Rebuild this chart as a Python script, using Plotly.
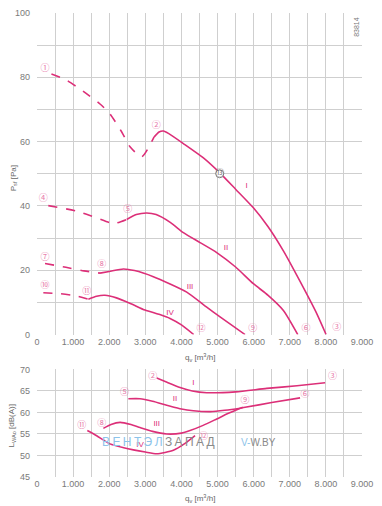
import plotly.graph_objects as go

# ---------------- data (top: pressure) ----------------
I_dash_q = [400, 822, 1283, 1745, 2022, 2346, 2576, 2900, 3240]
I_dash_p = [81, 79.1, 75.6, 71.7, 68.6, 63, 58.4, 55.3, 61.4]
I_sol_q = [3240, 3380, 3500, 3650, 4053, 4600, 5069, 5500, 5992, 6400, 6823, 7285, 7747, 8005]
I_sol_p = [61.4, 63, 63.3, 62.5, 59.4, 55, 50.2, 45.2, 39.4, 33.5, 26, 16.5, 6.5, 0]

II_dash_q = [313, 1100, 1654, 2022, 2200, 2484]
II_dash_p = [40.1, 38.4, 36.3, 34.8, 34.7, 35.8]
II_sol_q = [2484, 2750, 3039, 3300, 3700, 4053, 4515, 4977, 5500, 5992, 6400, 6823, 7222]
II_sol_p = [35.8, 37.3, 37.8, 37.3, 34.8, 31.7, 28.6, 25.5, 21, 15.8, 12.2, 7.5, 0]

III_dash_q = [222, 800, 1300, 1745]
III_dash_p = [22.1, 20.9, 19.8, 19.1]
III_sol_q = [1745, 2000, 2390, 2700, 3222, 4146, 4700, 5069, 5762]
III_sol_p = [19.1, 19.6, 20.4, 19.9, 18.0, 13.2, 8.5, 5.5, 0]

IV_dash_q = [175, 637, 1100, 1422]
IV_dash_p = [13, 12.7, 12.0, 11]
IV_sol_q = [1422, 1650, 1880, 2200, 2600, 2992, 3400, 3684, 4000, 4340]
IV_sol_p = [11, 11.9, 12.2, 11.4, 9.6, 7.6, 6.2, 5, 3, 0]

# ---------------- data (bottom: sound level) ----------------
LI_q = [3316, 3600, 3961, 4300, 4700, 5500, 6363, 7200, 7978]
LI_l = [68, 67, 65.8, 65, 64.6, 64.8, 65.6, 66.2, 66.9]
LII_q = [2530, 2853, 3200, 3592, 4000, 4330, 4800, 5200, 5623, 5762, 6500, 7285]
LII_l = [63.2, 63.2, 62.6, 61.7, 60.8, 60.4, 60.2, 60.5, 61, 61.2, 62.3, 63.4]
LIII_q = [1838, 2050, 2300, 2600, 2853, 3200, 3592, 4000, 4238, 4600, 4977, 5300, 5700]
LIII_l = [56.3, 57.2, 57.7, 57.2, 56.5, 55.6, 55, 55.2, 55.8, 57, 58.5, 59.8, 61.2]
LIV_q = [1393, 1653, 2022, 2400, 2668, 3000, 3316, 3776, 4100, 4377]
LIV_l = [55.8, 54.6, 52.7, 51.8, 51.3, 50.8, 50.4, 51.2, 52.8, 54.6]

# point labels
top_lbl_text = ["①", "②", "③", "④", "⑤", "⑥", "⑦", "⑧", "⑨", "⑩", "⑪", "⑫"]
top_lbl_q = [220, 3300, 8302, 175, 2512, 7452, 222, 1792, 5975, 222, 1376, 4543]
top_lbl_p = [82.8, 65, 2.1, 42.2, 38.9, 1.7, 23.9, 21.6, 1.7, 15.3, 13.4, 1.7]
curve_names = ["I", "II", "III", "IV"]
top_name_q = [5808, 5234, 4237, 3684]
top_name_p = [46.2, 26.8, 14.8, 6.8]
op_q, op_p, op_text = [5060], [50], ["⑬"]

bot_lbl_text = ["②", "③", "⑤", "⑥", "⑨", "⑧", "⑪", "⑫"]
bot_lbl_q = [3205, 8180, 2420, 7424, 5762, 1792, 1238, 4608]
bot_lbl_l = [68.4, 68.2, 64.6, 64.1, 62.8, 57.4, 56.9, 54.4]
bot_name_q = [4330, 3823, 3316, 2853]
bot_name_l = [66.8, 63.1, 57.4, 52.4]

x_tickvals = list(range(0, 9001, 500))
x_ticktext = [("%d.%03d" % (v // 1000, v % 1000) if v % 1000 == 0 and v > 0 else ("0" if v == 0 else "")) for v in x_tickvals]
y_top_vals = list(range(0, 101, 10))
y_top_text = [str(v) if v % 20 == 0 else "" for v in y_top_vals]
y_bot_vals = list(range(45, 71, 5))
y_bot_text = [str(v) for v in y_bot_vals]

LINE = "#dc2f78"
LBL = "#e87aaa"
GRID = "#cfcfcf"
TICKC = "#7a7a7a"
FONT = "Liberation Sans"
CFONT = "Noto Sans CJK JP"

fig = go.Figure()

def add(q, v, dash, axis):
    fig.add_trace(go.Scatter(x=q, y=v, mode="lines",
                             line=dict(color=LINE, width=1.6, dash=dash, shape="spline", smoothing=0.6),
                             xaxis="x" if axis == 1 else "x2", yaxis="y" if axis == 1 else "y2",
                             hoverinfo="skip", showlegend=False))

add(I_dash_q, I_dash_p, "dash", 1); add(I_sol_q, I_sol_p, "solid", 1)
add(II_dash_q, II_dash_p, "dash", 1); add(II_sol_q, II_sol_p, "solid", 1)
add(III_dash_q, III_dash_p, "dash", 1); add(III_sol_q, III_sol_p, "solid", 1)
add(IV_dash_q, IV_dash_p, "dash", 1); add(IV_sol_q, IV_sol_p, "solid", 1)
add(LI_q, LI_l, "solid", 2); add(LII_q, LII_l, "solid", 2)
add(LIII_q, LIII_l, "solid", 2); add(LIV_q, LIV_l, "solid", 2)

# labels as text traces
fig.add_trace(go.Scatter(x=top_lbl_q, y=top_lbl_p, mode="text", text=top_lbl_text,
                         textfont=dict(color=LBL, size=9, family=CFONT),
                         xaxis="x", yaxis="y", hoverinfo="skip", showlegend=False))
fig.add_trace(go.Scatter(x=top_name_q, y=top_name_p, mode="text", text=curve_names,
                         textfont=dict(color=LINE, size=8, family=FONT),
                         xaxis="x", yaxis="y", hoverinfo="skip", showlegend=False))
fig.add_trace(go.Scatter(x=op_q, y=op_p, mode="markers+text", text=op_text,
                         marker=dict(size=8, color="white", line=dict(color="#808080", width=1)),
                         textposition="middle center",
                         textfont=dict(color="#707070", size=9, family=CFONT),
                         xaxis="x", yaxis="y", hoverinfo="skip", showlegend=False))
fig.add_trace(go.Scatter(x=bot_lbl_q, y=bot_lbl_l, mode="text", text=bot_lbl_text,
                         textfont=dict(color=LBL, size=9, family=CFONT),
                         xaxis="x2", yaxis="y2", hoverinfo="skip", showlegend=False))
fig.add_trace(go.Scatter(x=bot_name_q, y=bot_name_l, mode="text", text=curve_names,
                         textfont=dict(color=LINE, size=8, family=FONT),
                         xaxis="x2", yaxis="y2", hoverinfo="skip", showlegend=False))

# layout geometry: plot x 37..362 px, top y 8..333, bottom y 368..477
H = 469.0
def py(p):
    return (477 - p) / H
def px(p):
    return (p - 37) / 325.0

axis_common = dict(range=[0, 9000], tickvals=x_tickvals, ticktext=x_ticktext,
                   showgrid=True, gridcolor=GRID, gridwidth=1, zeroline=False,
                   showline=False, ticks="", tickfont=dict(size=9, color=TICKC, family=FONT),
                   fixedrange=True)

fig.update_layout(
    width=382, height=506,
    margin=dict(l=37, r=20, t=8, b=29),
    paper_bgcolor="white", plot_bgcolor="white",
    font=dict(family=FONT, color=TICKC),
    xaxis=dict(domain=[0, 1], anchor="y", **axis_common),
    yaxis=dict(domain=[py(333), 1], anchor="x", range=[0, 100], tickvals=y_top_vals, ticktext=y_top_text,
               showgrid=True, gridcolor=GRID, zeroline=False, showline=False, ticks="",
               tickfont=dict(size=9, color=TICKC, family=FONT), ticklabelstandoff=6, fixedrange=True),
    xaxis2=dict(domain=[0, 1], anchor="y2", **axis_common),
    yaxis2=dict(domain=[0, py(368.3)], anchor="x2", range=[45, 70], tickvals=y_bot_vals, ticktext=y_bot_text,
                showgrid=True, gridcolor=GRID, zeroline=False, showline=False, ticks="",
                tickfont=dict(size=9, color=TICKC, family=FONT), ticklabelstandoff=6, fixedrange=True),
)

ann = []
ann.append(dict(text="P<sub>sf</sub> [Pa]", x=px(14), y=py(175), xref="paper", yref="paper",
                textangle=-90, showarrow=False, font=dict(size=8, color="#666"), xanchor="center", yanchor="middle"))
ann.append(dict(text="q<sub>v</sub> [m<sup>3</sup>/h]", x=px(200), y=py(356), xref="paper", yref="paper",
                showarrow=False, font=dict(size=8, color="#666"), xanchor="center", yanchor="middle"))
ann.append(dict(text="L<sub>WAo</sub> [dB(A)]", x=px(12), y=py(425), xref="paper", yref="paper",
                textangle=-90, showarrow=False, font=dict(size=8, color="#666"), xanchor="center", yanchor="middle"))
ann.append(dict(text="q<sub>v</sub> [m<sup>3</sup>/h]", x=px(200), y=py(499), xref="paper", yref="paper",
                showarrow=False, font=dict(size=8, color="#666"), xanchor="center", yanchor="middle"))
ann.append(dict(text="83814", x=px(357), y=py(22), xref="paper", yref="paper", textangle=-90,
                showarrow=False, font=dict(size=7, color="#777"), xanchor="center", yanchor="middle"))
ts = "\u2009"
ann.append(dict(text="<span style='color:#8cc3ea'>" + ts.join("ВЕНТЭЛ") + ts + "</span><span style='color:#8a8a8a'>" + ts.join("ЗАПАД") + "</span>",
                x=px(100), y=py(442), xref="paper", yref="paper", showarrow=False,
                font=dict(size=12, family=FONT), xanchor="left", yanchor="middle"))
ann.append(dict(text="<span style='color:#8cc3ea'>V-</span><span style='color:#8a8a8a'>W.BY</span>",
                x=px(239), y=py(442), xref="paper", yref="paper", showarrow=False,
                font=dict(size=10, family=FONT), xanchor="left", yanchor="middle"))
fig.update_layout(annotations=ann)

fig.write_html("out.html", config={"displayModeBar": False},
               post_script="document.body.style.margin='0px';document.body.style.overflow='hidden';")
